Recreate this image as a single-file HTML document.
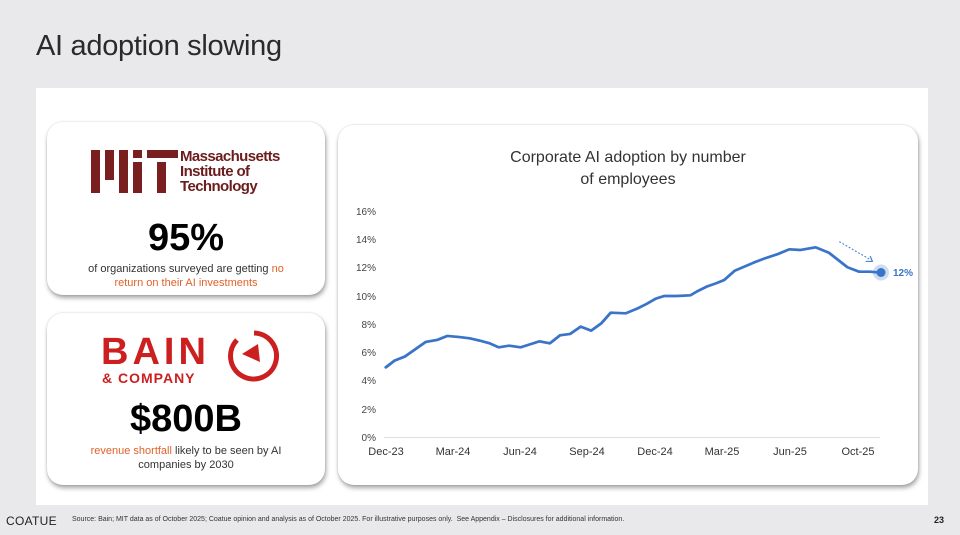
<!DOCTYPE html>
<html><head><meta charset="utf-8"><style>
*{margin:0;padding:0;box-sizing:border-box}
body{width:960px;height:535px;background:#e9e9eb;font-family:"Liberation Sans",sans-serif;position:relative;overflow:hidden}
.title{position:absolute;left:36px;top:30px;font-size:29px;color:#2a2a2a;letter-spacing:-0.3px}
.panel{position:absolute;left:36px;top:88px;width:892px;height:417px;background:#fff}
.card{position:absolute;background:#fff;border-radius:16px;box-shadow:1px 3px 5px rgba(0,0,0,0.35),0 0 2px rgba(0,0,0,0.15)}
.big{position:absolute;width:100%;text-align:center;font-weight:bold;color:#000}
.small{position:absolute;width:100%;text-align:center;font-size:11px;line-height:14px;color:#333}
.or{color:#e0622a}
.foot{position:absolute;top:516px;font-size:7px;color:#333}
</style></head><body>
<div class="title">AI adoption slowing</div>
<div class="panel"></div>

<div class="card" style="left:47px;top:122px;width:278px;height:173px">
  <svg style="position:absolute;left:44px;top:28px" width="90" height="43">
    <g fill="#7a1f1f">
      <rect x="0" y="0" width="9" height="43"/><rect x="14" y="0" width="9" height="30"/>
      <rect x="28" y="0" width="9" height="43"/><rect x="42" y="12" width="9" height="31"/>
      <rect x="42" y="0" width="9" height="8"/><rect x="56" y="0" width="31" height="8"/>
      <rect x="66" y="12" width="9" height="31"/>
    </g>
  </svg>
  <div style="position:absolute;left:133px;top:27px;font-size:15px;line-height:15px;color:#6b1d1d;font-weight:bold;letter-spacing:-0.6px">Massachusetts<br>Institute of<br>Technology</div>
  <div class="big" style="top:95px;font-size:38px">95%</div>
  <div class="small" style="top:140px">of organizations surveyed are getting <span class="or">no</span><br><span class="or">return on their AI investments</span></div>
</div>

<div class="card" style="left:47px;top:313px;width:278px;height:172px">
  <div style="position:absolute;left:54px;top:18px;font-size:38px;color:#cc1f1f;letter-spacing:4px;font-weight:bold">BAIN</div>
  <div style="position:absolute;left:55px;top:57px;font-size:14px;color:#cc1f1f;letter-spacing:1px;font-weight:bold">&amp; COMPANY</div>
  <svg style="position:absolute;left:180px;top:16px" width="54" height="54">
    <path d="M27 4 A23 23 0 1 1 10 11" fill="none" stroke="#cc1f1f" stroke-width="5"/>
    <polygon points="15,25 31,15 33,33" fill="#cc1f1f"/>
  </svg>
  <div class="big" style="top:85px;font-size:38px">$800B</div>
  <div class="small" style="top:131px"><span class="or">revenue shortfall</span> likely to be seen by AI<br>companies by 2030</div>
</div>

<div class="card" style="left:338px;top:125px;width:580px;height:360px"></div>

<svg style="position:absolute;left:0;top:0" width="960" height="535">
  <text x="628" y="162" text-anchor="middle" font-size="16" fill="#333" font-family="Liberation Sans">Corporate AI adoption by number</text>
  <text x="628" y="184" text-anchor="middle" font-size="16" fill="#333" font-family="Liberation Sans">of employees</text>
  <g font-size="10" fill="#444" font-family="Liberation Sans" text-anchor="end">
    <text x="376" y="215">16%</text><text x="376" y="243">14%</text><text x="376" y="271">12%</text>
    <text x="376" y="300">10%</text><text x="376" y="328">8%</text><text x="376" y="356">6%</text>
    <text x="376" y="384">4%</text><text x="376" y="413">2%</text><text x="376" y="441">0%</text>
  </g>
  <line x1="384" y1="437.5" x2="880" y2="437.5" stroke="#ddd" stroke-width="1"/>
  <g font-size="11" fill="#333" font-family="Liberation Sans" text-anchor="middle">
    <text x="386" y="455">Dec-23</text><text x="453" y="455">Mar-24</text><text x="520" y="455">Jun-24</text>
    <text x="587" y="455">Sep-24</text><text x="655" y="455">Dec-24</text><text x="722" y="455">Mar-25</text>
    <text x="790" y="455">Jun-25</text><text x="858" y="455">Oct-25</text>
  </g>
  <g transform="translate(340,190) scale(0.376,0.3333)">
    <polyline fill="none" stroke="#3a74c9" stroke-width="8" stroke-linejoin="round" stroke-linecap="round"
      points="122,532 145,512 172,500 200,478 228,456 258,450 285,438 315,441 345,445 372,452 398,460 422,472 450,467 480,472 505,463 530,454 558,460 585,436 612,432 640,410 668,422 695,400 720,368 760,370 790,356 815,342 840,326 862,318 895,318 932,316 950,304 975,290 1000,280 1022,270 1050,242 1075,230 1100,218 1130,205 1165,192 1195,178 1225,180 1265,172 1300,188 1325,210 1350,232 1380,245 1410,245 1438,248"/>
    <line x1="1328" y1="155" x2="1412" y2="210" stroke="#3a74c9" stroke-width="3" stroke-dasharray="5,5"/>
    <polyline points="1398,214 1416,214 1410,198" fill="none" stroke="#3a74c9" stroke-width="3"/>
  </g>
  <circle cx="881" cy="272.5" r="8" fill="#3a74c9" opacity="0.25"/>
  <circle cx="881" cy="272.5" r="4.5" fill="#3a74c9"/>
  <text x="893" y="276" font-size="10" fill="#3a74c9" font-weight="bold" font-family="Liberation Sans">12%</text>
</svg>

<div style="position:absolute;left:6px;top:514px;font-size:12px;color:#222;letter-spacing:0.3px">COATUE</div>
<div class="foot" style="left:72px">Source: Bain; MIT data as of October 2025; Coatue opinion and analysis as of October 2025. For illustrative purposes only.&nbsp; See Appendix – Disclosures for additional information.</div>
<div style="position:absolute;left:934px;top:515px;font-size:9px;color:#222;font-weight:bold">23</div>
</body></html>
